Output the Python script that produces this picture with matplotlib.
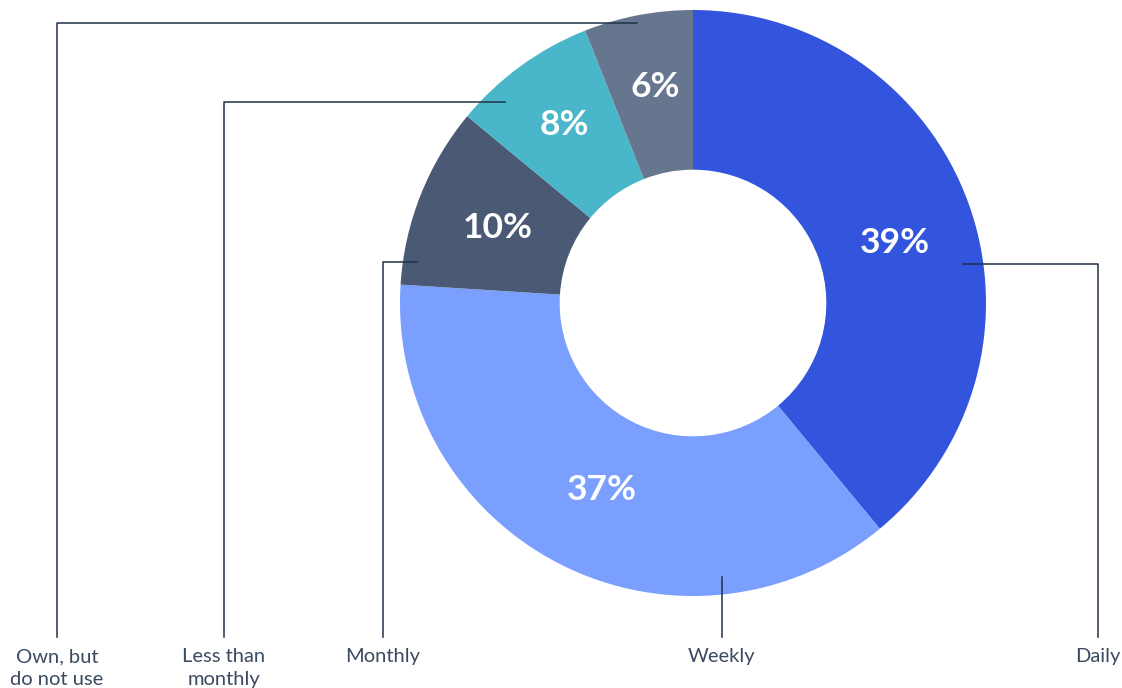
import matplotlib.pyplot as plt

labels = ['Daily', 'Weekly', 'Monthly', 'Less than\nmonthly', 'Own, but\ndo not use']
values = [39, 37, 10, 8, 6]
colors = ['#3355dd', '#7b9fff', '#4a5a75', '#4ab6ca', '#67768f']

W, H = 1122, 688
fig = plt.figure(figsize=(W / 100, H / 100), dpi=100)
ax = fig.add_axes([0, 0, 1, 1])

cx, cy, r = 693, H - 303, 293
wedges, _ = ax.pie(values, colors=colors, startangle=90, counterclock=False,
                   center=(cx, cy), radius=r, frame=True,
                   wedgeprops=dict(width=r * 0.545, linewidth=0))
ax.set_xlim(0, W)
ax.set_ylim(0, H)
ax.set_aspect('equal')
ax.axis('off')

# percentage labels (pixel positions from top)
pct_pos = [(895, 243), (602, 490), (498, 228), (564, 125), (655, 87)]
for v, (x, y) in zip(values, pct_pos):
    ax.text(x, H - y, f'{v}%', color='white', fontsize=25.5, fontweight='bold',
            family='Lato', ha='center', va='center')

# leader lines: start point on wedge, elbow x, label x
line_c = '#1f3047'
leaders = [((963, 264), 1098), ((722, 577), 722), ((417, 262), 383),
           ((505, 102), 224), ((637, 23), 57)]
bottom = 637
for lab, ((sx, sy), lx) in zip(labels, leaders):
    ax.plot([sx, lx, lx], [H - sy, H - sy, H - bottom], color=line_c, lw=1.1)
    ax.text(lx, H - 648, lab, color='#3a4a60', fontsize=14.5, family='Lato',
            ha='center', va='top', linespacing=1.45)

fig.savefig('out.png', dpi=100)
